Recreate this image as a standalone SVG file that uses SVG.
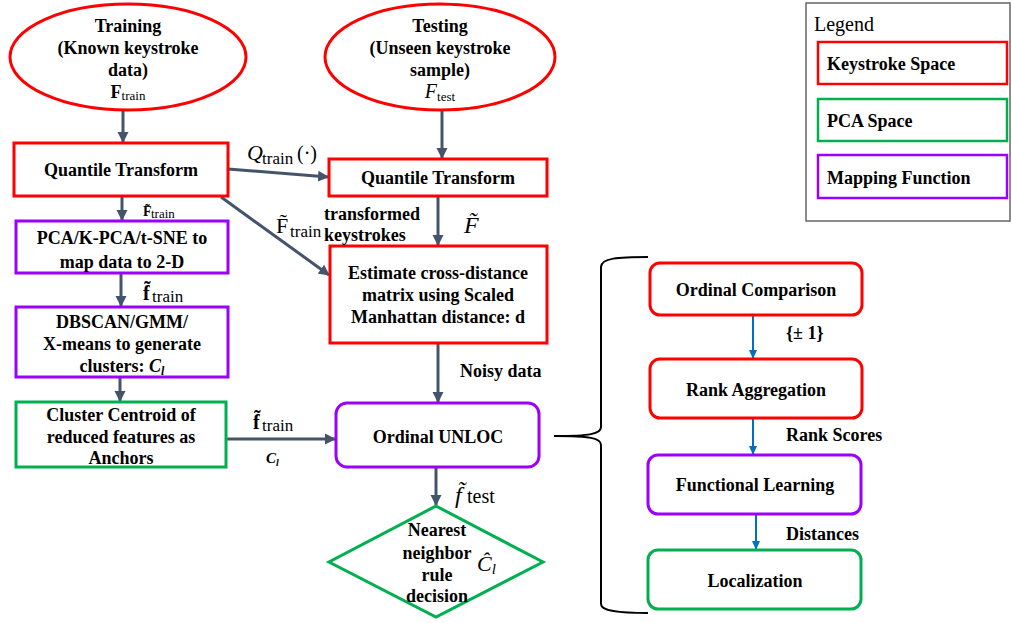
<svg xmlns="http://www.w3.org/2000/svg" width="1012" height="623" viewBox="0 0 1012 623">
<defs>
<marker id="ah" markerUnits="userSpaceOnUse" markerWidth="12" markerHeight="12" refX="10" refY="6" orient="auto"><path d="M0,0.5 L11,6 L0,11.5 z" fill="#44546A"/></marker>
<marker id="bh" markerUnits="userSpaceOnUse" markerWidth="10" markerHeight="10" refX="8" refY="5" orient="auto"><path d="M0,1 L9,5 L0,9 z" fill="#0070C0"/></marker>
</defs>
<style>
.t{font-family:"Liberation Serif","Times New Roman",serif;font-weight:bold;font-size:18px;fill:#000;text-anchor:middle}
.l{font-family:"Liberation Serif","Times New Roman",serif;font-weight:bold;font-size:18px;fill:#000}
.red{fill:#fff;stroke:#FF0000;stroke-width:3}
.pur{fill:#fff;stroke:#9B00FF;stroke-width:3}
.grn{fill:#fff;stroke:#00B050;stroke-width:3}
.c{stroke:#44546A;stroke-width:3;fill:none;marker-end:url(#ah)}
.b{stroke:#0070C0;stroke-width:2;fill:none;marker-end:url(#bh)}
.m{font-family:"Liberation Serif","Times New Roman",serif;font-style:italic;fill:#000}
.r{font-family:"Liberation Serif","Times New Roman",serif;fill:#000}
</style>

<g id="connectors">
<line class="c" x1="123" y1="111" x2="123" y2="142"/>
<line class="c" x1="442" y1="111" x2="442" y2="158"/>
<line class="c" x1="228" y1="169" x2="328" y2="177"/>
<line class="c" x1="221" y1="197" x2="329" y2="275"/>
<line class="c" x1="122" y1="196" x2="122" y2="220"/>
<line class="c" x1="438" y1="197" x2="438" y2="245"/>
<line class="c" x1="121" y1="274" x2="121" y2="306"/>
<line class="c" x1="120" y1="378" x2="120" y2="401"/>
<line class="c" x1="227" y1="439" x2="335" y2="439"/>
<line class="c" x1="438" y1="344" x2="438" y2="402"/>
<line class="c" x1="436" y1="468" x2="436" y2="505"/>
<line class="b" x1="753" y1="316" x2="753" y2="358"/>
<line class="b" x1="753" y1="419" x2="753" y2="454"/>
<line class="b" x1="756" y1="515" x2="756" y2="549"/>
<path d="M648,257 C618,257 601,258 601,267 L601,427 C601,434 590,436 554,436 C590,436 601,438 601,445 L601,604 C601,611 618,613 648,613" fill="none" stroke="#000" stroke-width="2"/>
</g>

<g id="training">
<ellipse cx="128" cy="57" rx="118" ry="53" fill="#fff" stroke="#FF0000" stroke-width="3"/>
<text x="128" y="32" class="t">Training</text>
<text x="128" y="54" class="t">(Known keystroke</text>
<text x="128" y="76" class="t">data)</text>
<text x="128" y="98" class="t">F<tspan font-weight="normal" font-size="13" dy="2">train</tspan></text>
</g>

<g id="testing">
<ellipse cx="440" cy="57" rx="115" ry="53" fill="#fff" stroke="#FF0000" stroke-width="3"/>
<text x="440" y="32" class="t">Testing</text>
<text x="440" y="54" class="t">(Unseen keystroke</text>
<text x="440" y="76" class="t">sample)</text>
<text x="440" y="98" class="t"><tspan font-style="italic" font-weight="normal" font-size="20">F</tspan><tspan font-weight="normal" font-size="13" dy="3">test</tspan></text>
</g>

<g id="quantile-left">
<rect x="14" y="143" width="214" height="53" class="red"/>
<text x="121" y="176" class="t">Quantile Transform</text>
</g>

<g id="quantile-right">
<rect x="329" y="159" width="218" height="37" class="red"/>
<text x="438" y="184" class="t">Quantile Transform</text>
</g>

<g id="pca">
<rect x="16" y="221" width="212" height="52" class="pur"/>
<text x="122" y="244" class="t">PCA/K-PCA/t-SNE to</text>
<text x="122" y="268" class="t">map data to 2-D</text>
</g>

<g id="clustering">
<rect x="16" y="307" width="212" height="70" class="pur"/>
<text x="122" y="328" class="t">DBSCAN/GMM/</text>
<text x="122" y="350" class="t">X-means to generate</text>
<text x="122" y="372" class="t">clusters: <tspan font-style="italic">C</tspan><tspan font-style="italic" font-size="12" dy="3">l</tspan></text>
</g>

<g id="anchors">
<rect x="16" y="402" width="210" height="65" class="grn"/>
<text x="121" y="421" class="t">Cluster Centroid of</text>
<text x="121" y="443" class="t">reduced features as</text>
<text x="121" y="464" class="t">Anchors</text>
</g>

<g id="estimate">
<rect x="330" y="246" width="217" height="97" class="red"/>
<text x="438" y="279" class="t">Estimate cross-distance</text>
<text x="438" y="301" class="t">matrix using Scaled</text>
<text x="438" y="323" class="t">Manhattan distance: d</text>
</g>

<g id="unloc">
<rect x="336" y="403" width="203" height="64" rx="11" class="pur"/>
<text x="438" y="443" class="t">Ordinal UNLOC</text>
</g>

<g id="decision">
<polygon points="436,506 543,562 436,617 329,562" fill="#fff" stroke="#00B050" stroke-width="3"/>
<text x="437" y="536" class="t">Nearest</text>
<text x="437" y="559" class="t">neighbor</text>
<text x="437" y="581" class="t">rule</text>
<text x="437" y="602" class="t">decision</text>
</g>

<g id="ordinal-comparison">
<rect x="650" y="263" width="212" height="52" rx="10" class="red"/>
<text x="756" y="296" class="t">Ordinal Comparison</text>
</g>

<g id="rank-aggregation">
<rect x="650" y="359" width="212" height="59" rx="10" class="red"/>
<text x="756" y="396" class="t">Rank Aggregation</text>
</g>

<g id="functional-learning">
<rect x="648" y="455" width="213" height="59" rx="10" class="pur"/>
<text x="755" y="491" class="t">Functional Learning</text>
</g>

<g id="localization">
<rect x="648" y="550" width="213" height="59" rx="10" class="grn"/>
<text x="755" y="587" class="t">Localization</text>
</g>

<g id="legend">
<rect x="806" y="3" width="204" height="218" fill="#fff" stroke="#666" stroke-width="1.5"/>
<text x="814" y="31" class="r" font-size="20">Legend</text>
<rect x="818" y="42" width="189" height="42" fill="#fff" stroke="#FF0000" stroke-width="2.5"/>
<text x="827" y="70" class="l" font-size="20">Keystroke Space</text>
<rect x="818" y="99" width="189" height="42" fill="#fff" stroke="#00B050" stroke-width="2.5"/>
<text x="827" y="127" class="l" font-size="20">PCA Space</text>
<rect x="818" y="155" width="189" height="43" fill="#fff" stroke="#9B00FF" stroke-width="2.5"/>
<text x="827" y="184" class="l" font-size="20">Mapping Function</text>
</g>

<g id="labels">
<text x="247" y="160" class="m" font-size="22">Q</text><text x="262" y="164" class="r" font-size="17">train</text><text x="297" y="160" class="r" font-size="20">(·)</text>
<text x="143" y="216" class="r" font-size="14" font-weight="bold">F̃</text><text x="151" y="218" class="r" font-size="13">train</text>
<text x="143" y="300" class="r" font-size="20" font-weight="bold">f̃</text><text x="152" y="302" class="r" font-size="17">train</text>
<text x="253" y="429" class="r" font-size="20" font-weight="bold">f̃</text><text x="262" y="431" class="r" font-size="17">train</text>
<text x="266" y="463" class="m" font-size="15" font-weight="bold">C<tspan font-size="10" dy="3">l</tspan></text>
<text x="276" y="233" class="r" font-size="22">F̃</text><text x="290" y="237" class="r" font-size="17">train</text>
<text x="324" y="220" class="l">transformed</text>
<text x="324" y="241" class="l">keystrokes</text>
<text x="464" y="233" class="m" font-size="24">F̃</text>
<text x="460" y="377" class="l">Noisy data</text>
<text x="455" y="503" class="m" font-size="24">f̃</text><text x="467" y="503" class="r" font-size="20">test</text>
<text x="477" y="571" class="m" font-size="22">Ĉ<tspan font-size="15" dy="3">l</tspan></text>
<text x="786" y="339" class="l">{± 1}</text>
<text x="786" y="441" class="l">Rank Scores</text>
<text x="786" y="540" class="l">Distances</text>
</g>
</svg>
